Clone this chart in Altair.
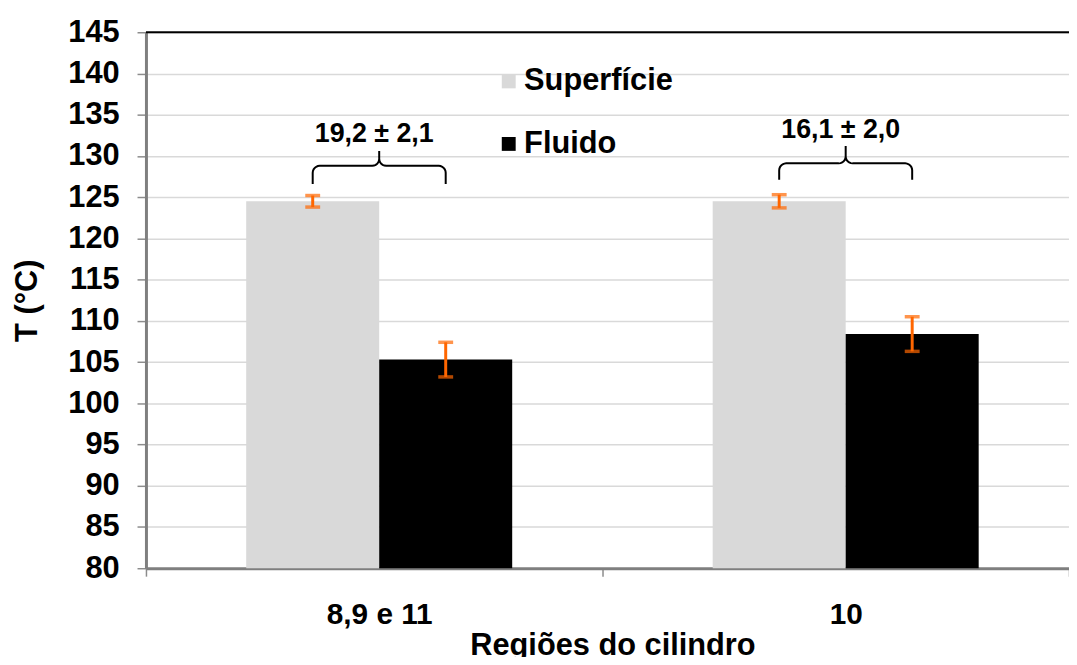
import altair as alt
import numpy as np
import pandas as pd

# ---------------- data ----------------
regions = ["8,9 e 11", "10"]
series = ["Superfície", "Fluido"]
superficie_vals = [124.5, 124.5]
superficie_err = [0.7, 0.8]
fluido_vals = [105.3, 108.4]
fluido_err = [2.1, 2.1]

annot_labels = ["19,2 ± 2,1", "16,1 ± 2,0"]
annot_text_y = [132.6, 133.1]
brace_base_y = [126.6, 127.1]
brace_mid_y = [128.8, 129.1]
brace_peak_y = [130.6, 131.2]

y_ticks = list(range(80, 146, 5))

# ---------------- layout constants ----------------
FONT = "Liberation Sans"
PLOT_W = 930          # visible plot width (the original's right part is cut off)
STEP = 470            # width of one category band in the original
BAR_W = 134           # width of one bar
BAR_START = 101       # gap between category start and first bar
PLOT_H = 540
Y_MIN, Y_MAX = 80, 145

# band-scale paddings that reproduce the geometry above inside PLOT_W
PAD_INNER = 2 - PLOT_W / STEP
BAND_W = STEP * (1 - PAD_INNER)
OFF_PAD = BAND_W / (2 * BAR_W) - 1
OFF_ALIGN = BAR_START / (2 * OFF_PAD * BAR_W)
LABEL_SHIFT = (STEP - BAND_W) / 2

rows = []
for i, r in enumerate(regions):
    rows.append({"region": r, "series": series[0], "value": superficie_vals[i], "err": superficie_err[i]})
    rows.append({"region": r, "series": series[1], "value": fluido_vals[i], "err": fluido_err[i]})
df = pd.DataFrame(rows)

annot_df = pd.DataFrame({"region": regions, "label": annot_labels, "ty": annot_text_y})

# brace geometry (x in category-index units, y in degrees)
half = (BAR_W / STEP) / 2.0
rx = 7.0 / STEP
ry = 7.0 / (PLOT_H / (Y_MAX - Y_MIN))
brace_rows = []
for gi in range(len(regions)):
    xc = gi + (BAR_START + BAR_W) / STEP
    x0 = xc - half
    yb, yh, yp = brace_base_y[gi], brace_mid_y[gi], brace_peak_y[gi]
    pts = [(x0, yb), (x0, yh - ry)]
    for a in np.linspace(np.pi, np.pi / 2, 7)[1:]:
        pts.append((x0 + rx + rx * np.cos(a), yh - ry + ry * np.sin(a)))
    pts.append((xc - rx, yh))
    for a in np.linspace(-np.pi / 2, 0, 7)[1:]:
        pts.append((xc - rx + rx * np.cos(a), yh + ry + ry * np.sin(a)))
    pts.append((xc, yp))
    left = list(pts)
    right = [(2 * xc - px, py) for (px, py) in reversed(left)]
    allp = left + right[1:]
    for k, (px, py) in enumerate(allp):
        brace_rows.append({"g": gi, "k": k, "bx": px, "by": py})
brace_df = pd.DataFrame(brace_rows)

# ---------------- scales ----------------
yscale = alt.Scale(domain=[Y_MIN, Y_MAX], nice=False, zero=False)
xscale = alt.Scale(domain=regions, paddingInner=PAD_INNER, paddingOuter=0)
xoff_scale = alt.Scale(domain=series, paddingInner=0, paddingOuter=OFF_PAD, align=OFF_ALIGN)

x_axis = alt.Axis(
    title="Regiões do cilindro", labelAngle=0, labelFont=FONT, labelFontSize=30,
    labelFontWeight="bold", labelColor="black", labelPadding=24, labelOffset=LABEL_SHIFT,
    tickBand="extent", tickSize=8, tickColor="#8c8c8c", tickWidth=1.5,
    domainColor="#7f7f7f", domainWidth=3,
    titleFont=FONT, titleFontSize=31, titleFontWeight="bold", titleColor="black",
    titlePadding=1, titleX=STEP,
)
y_axis = alt.Axis(
    title="T (°C)", values=y_ticks, labelFont=FONT, labelFontSize=31,
    labelFontWeight="bold", labelColor="black", labelPadding=18,
    tickSize=9, tickColor="#8c8c8c", tickWidth=1.5,
    domainColor="#7f7f7f", domainWidth=3,
    grid=True, gridColor="#d9d9d9", gridWidth=1.5,
    titleFont=FONT, titleFontSize=31, titleFontWeight="bold", titleColor="black",
    titlePadding=25,
)

base = alt.Chart(df)

bars = base.mark_bar().encode(
    x=alt.X("region:N", scale=xscale, axis=x_axis, sort=regions),
    xOffset=alt.XOffset("series:N", scale=xoff_scale, sort=series),
    y=alt.Y("value:Q", scale=yscale, axis=y_axis),
    y2=alt.datum(Y_MIN),
    color=alt.Color(
        "series:N", sort=series,
        scale=alt.Scale(domain=series, range=["#d9d9d9", "#000000"]),
        legend=alt.Legend(
            title=None, orient="none", legendX=350, legendY=34,
            symbolType="square", symbolSize=196, symbolStrokeWidth=0,
            labelFont=FONT, labelFontSize=31, labelFontWeight="bold", labelColor="black",
            labelOffset=0, rowPadding=31, padding=0,
        ),
    ),
)

err_base = base.transform_calculate(
    lo="datum.value - datum.err", hi="datum.value + datum.err"
)
err_rule = err_base.mark_rule(color="#ff6600", strokeWidth=3).encode(
    x=alt.X("region:N", sort=regions),
    xOffset=alt.XOffset("series:N", sort=series),
    y=alt.Y("lo:Q"),
    y2="hi:Q",
)
cap_lo = err_base.mark_tick(color="#ff6600", thickness=3.5, size=15).encode(
    x=alt.X("region:N", sort=regions),
    xOffset=alt.XOffset("series:N", sort=series),
    y=alt.Y("lo:Q"),
)
cap_hi = err_base.mark_tick(color="#ff6600", thickness=3.5, size=15).encode(
    x=alt.X("region:N", sort=regions),
    xOffset=alt.XOffset("series:N", sort=series),
    y=alt.Y("hi:Q"),
)

annot = alt.Chart(annot_df).mark_text(
    font=FONT, fontSize=27, fontWeight="bold", color="black",
    align="center", baseline="middle",
).encode(
    x=alt.X("region:N", sort=regions),
    y=alt.Y("ty:Q"),
    text="label:N",
)

top_border = alt.Chart(pd.DataFrame({"t": [Y_MAX]})).mark_rule(
    color="black", strokeWidth=2
).encode(y=alt.Y("t:Q"))

inner = alt.layer(bars, err_rule, cap_lo, cap_hi, annot, top_border)

brace = alt.Chart(brace_df).mark_line(color="black", strokeWidth=2).encode(
    x=alt.X("bx:Q", scale=alt.Scale(domain=[0, PLOT_W / STEP], nice=False, zero=False), axis=None),
    y=alt.Y("by:Q"),
    detail="g:N",
    order="k:Q",
)

chart = alt.layer(inner, brace).resolve_scale(x="independent").properties(
    width=PLOT_W,
    height=PLOT_H,
    autosize=alt.AutoSizeParams(type="none"),
    padding={"left": 139, "top": 22, "right": 0, "bottom": 87},
).configure_view(strokeWidth=0).configure(background="white")

chart.save("out.html", embed_options={"renderer": "svg", "actions": False})
